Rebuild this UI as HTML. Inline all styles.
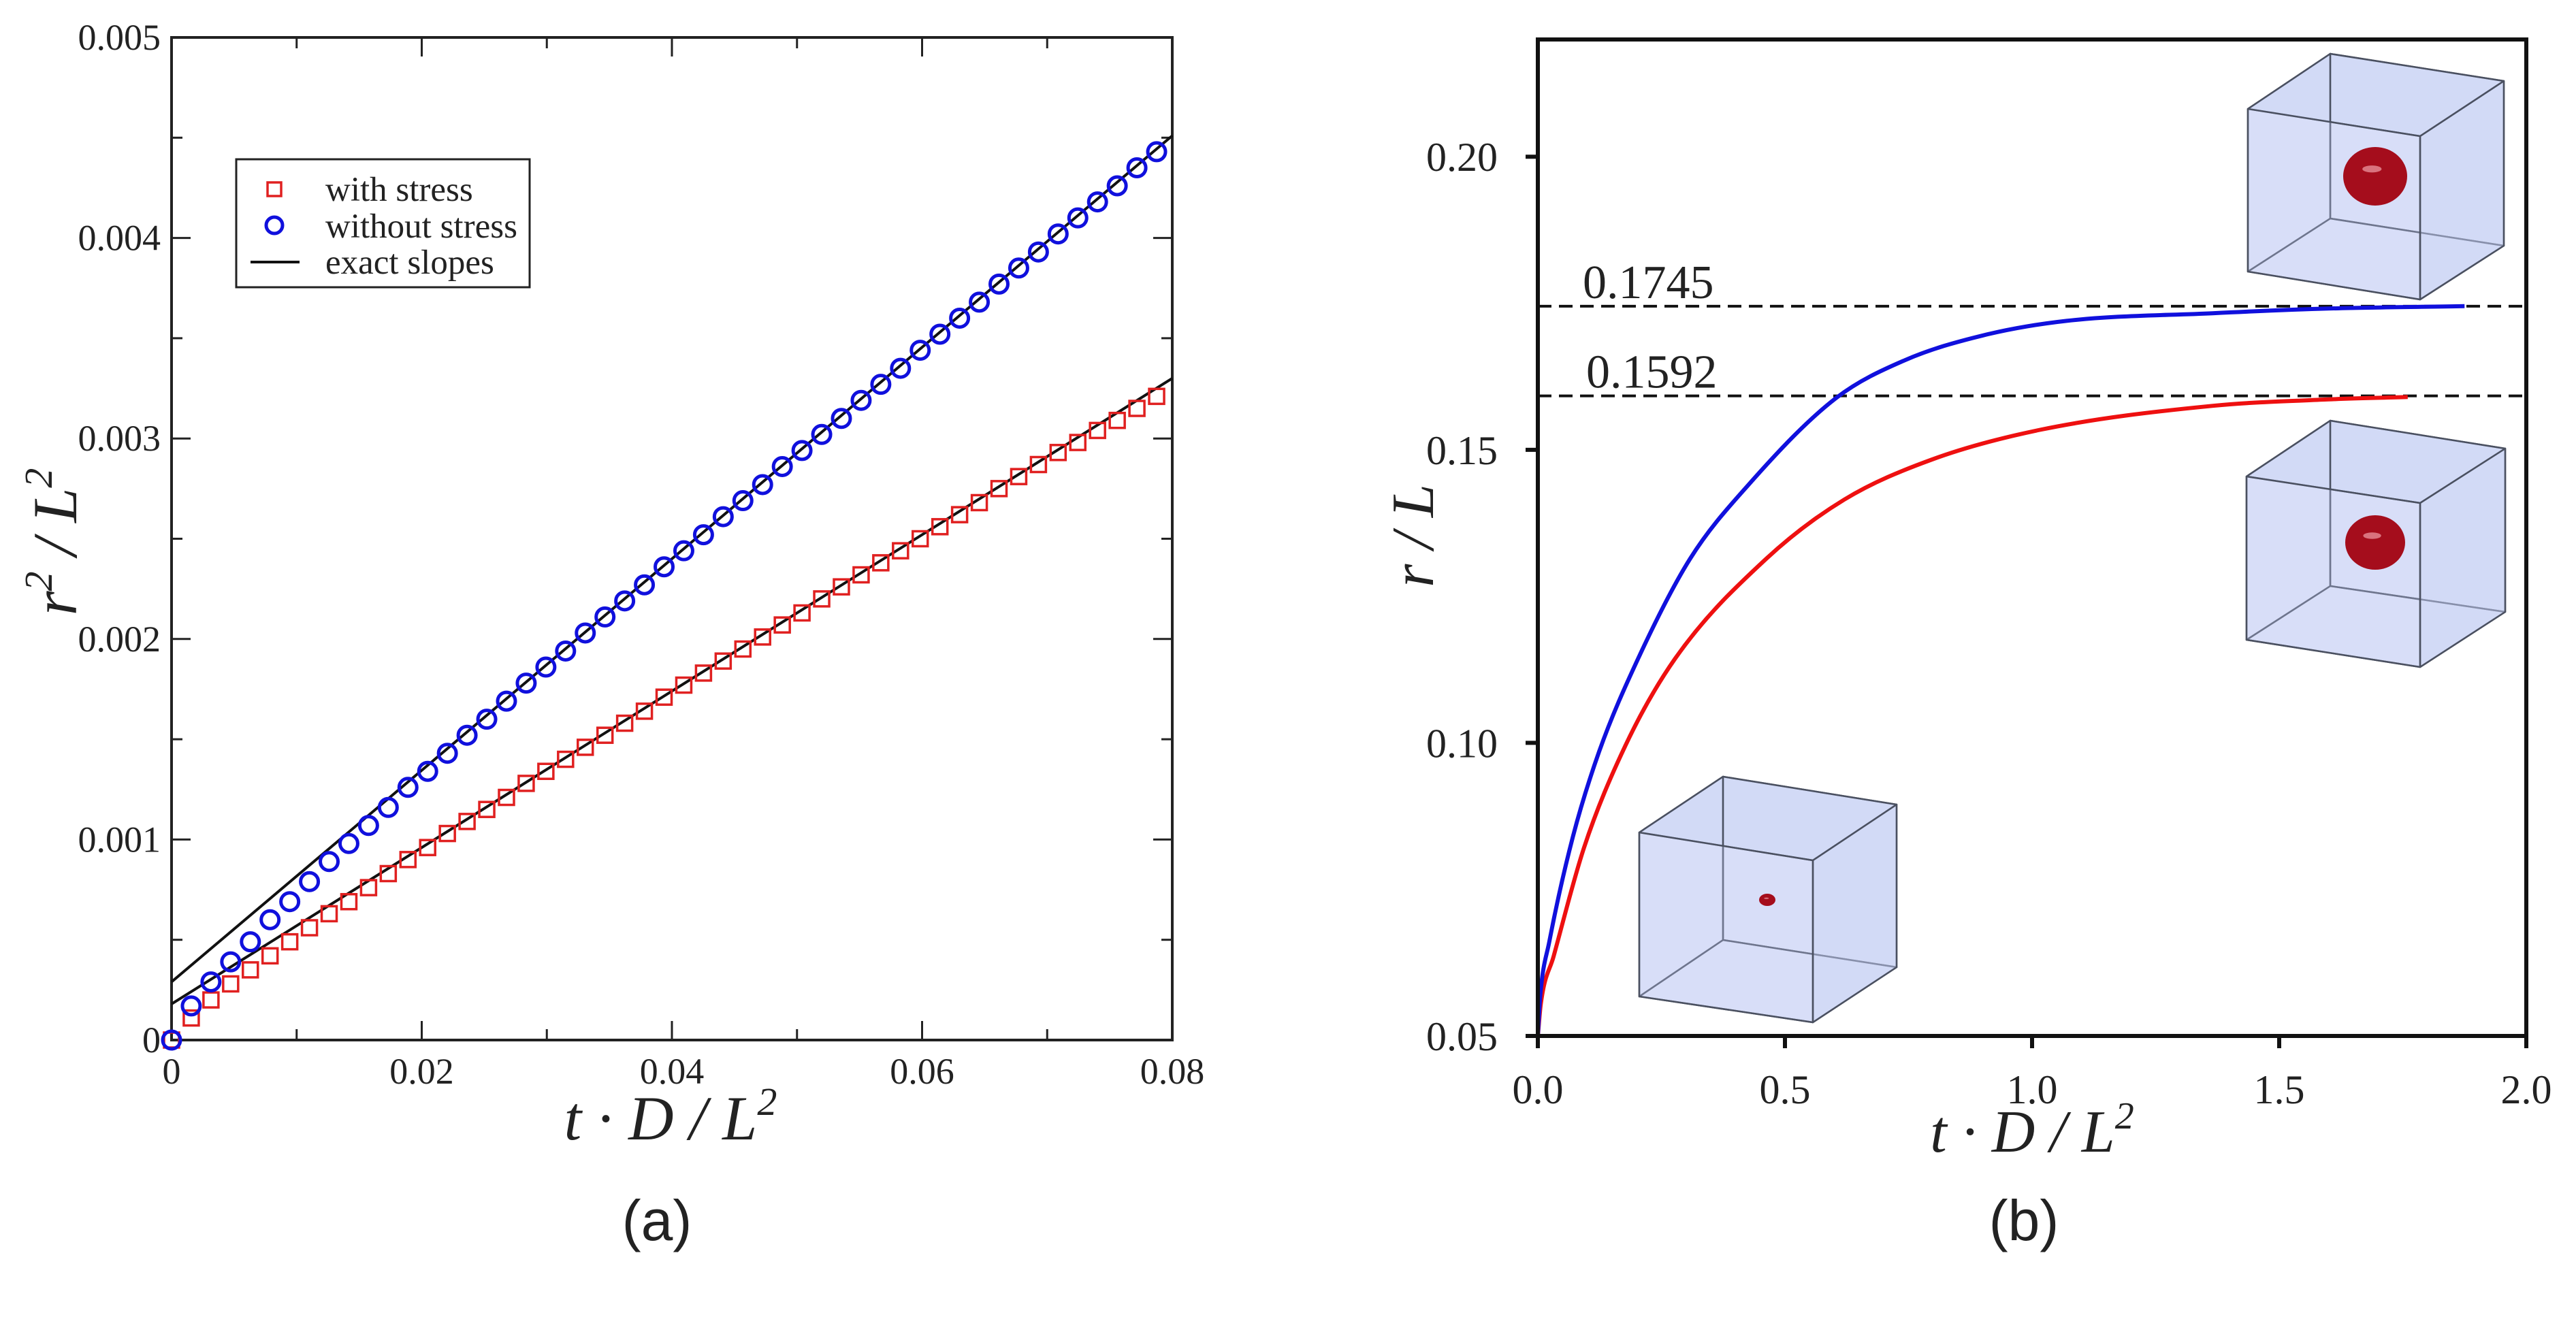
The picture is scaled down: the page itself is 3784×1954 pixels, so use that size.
<!DOCTYPE html>
<html><head><meta charset="utf-8"><style>
html,body{margin:0;padding:0;background:#fff;}
svg{display:block;}
.tk{font-family:"Liberation Serif",serif;fill:#222;}
.ax{font-family:"Liberation Serif",serif;font-style:italic;fill:#222;}
.cap{font-family:"Liberation Sans",sans-serif;fill:#222;}
</style></head><body>
<svg id="fig" width="3784" height="1954" viewBox="0 0 3784 1954" xmlns="http://www.w3.org/2000/svg">
<g id="pa"></g>
<g id="pb"></g>
</svg>
<script>
// ---------- Panel (a) data ----------
const aTimes = [0,0.001575,0.00315,0.004725,0.0063,0.007875,0.00945,0.011025,0.0126,0.014175,0.01575,0.017325,0.0189,0.020475,0.02205,0.023625,0.0252,0.026775,0.02835,0.029925,0.0315,0.033075,0.03465,0.036225,0.0378,0.039375,0.04095,0.042525,0.0441,0.045675,0.04725,0.048825,0.0504,0.051975,0.05355,0.055125,0.0567,0.058275,0.05985,0.061425,0.063,0.064575,0.06615,0.067725,0.0693,0.070875,0.07245,0.074025,0.0756,0.077175,0.07875];
const aWithout = [0,0.00017,0.00029,0.00039,0.00049,0.0006,0.00069,0.00079,0.00089,0.00098,0.00107,0.00116,0.00126,0.00134,0.00143,0.00152,0.0016,0.00169,0.00178,0.00186,0.00194,0.00203,0.00211,0.00219,0.00227,0.00236,0.00244,0.00252,0.00261,0.00269,0.00277,0.00286,0.00294,0.00302,0.0031,0.00319,0.00327,0.00335,0.00344,0.00352,0.0036,0.00368,0.00377,0.00385,0.00393,0.00402,0.0041,0.00418,0.00426,0.00435,0.00443];
const aWith = [0,0.00011,0.0002,0.00028,0.00035,0.00042,0.00049,0.00056,0.00063,0.00069,0.00076,0.00083,0.0009,0.00096,0.00103,0.00109,0.00115,0.00121,0.00128,0.00134,0.0014,0.00146,0.00152,0.00158,0.00164,0.00171,0.00177,0.00183,0.00189,0.00195,0.00201,0.00207,0.00213,0.0022,0.00226,0.00232,0.00238,0.00244,0.0025,0.00256,0.00262,0.00268,0.00275,0.00281,0.00287,0.00293,0.00298,0.00304,0.00309,0.00315,0.00321];
const aSlopeX = [0,0.08];
const aSlopeWithout = [0.00029,0.00451];
const aSlopeWith = [0.00018,0.0033];
const aXTicks = [0,0.02,0.04,0.06,0.08];
const aXTickLabels = ["0","0.02","0.04","0.06","0.08"];
const aYTicks = [0,0.001,0.002,0.003,0.004,0.005];
const aYTickLabels = ["0","0.001","0.002","0.003","0.004","0.005"];

// ---------- Panel (b) data ----------
const bBlueT = [0,0.005,0.023,0.071,0.124,0.203,0.308,0.427,0.603,0.743,0.9,1.07,1.365,1.6,1.875];
const bBlueR = [0.05,0.057,0.066,0.084,0.0985,0.1144,0.1314,0.1441,0.1588,0.1653,0.1695,0.172,0.1733,0.1741,0.1745];
const bRedT = [0,0.006,0.032,0.093,0.177,0.278,0.462,0.62,0.796,1.016,1.366,1.6,1.76];
const bRedR = [0.05,0.0555,0.0636,0.082,0.0995,0.1144,0.1314,0.1415,0.1483,0.1534,0.1575,0.1586,0.159];
const bRefValues = [0.1745,0.1592];
const bRefLabels = ["0.1745","0.1592"];
const bXTicks = [0,0.5,1.0,1.5,2.0];
const bXTickLabels = ["0.0","0.5","1.0","1.5","2.0"];
const bYTicks = [0.05,0.10,0.15,0.20];
const bYTickLabels = ["0.05","0.10","0.15","0.20"];

const NS="http://www.w3.org/2000/svg";
function mk(parent,tag,attrs,text){const e=document.createElementNS(NS,tag);for(const k in attrs)e.setAttribute(k,attrs[k]);if(text!==undefined)e.textContent=text;parent.appendChild(e);return e;}

// ===== Panel A =====
const A={x0:252,x1:1722,y0:1528,y1:55,xmin:0,xmax:0.08,ymin:0,ymax:0.005};
const ax=v=>A.x0+(v-A.xmin)/(A.xmax-A.xmin)*(A.x1-A.x0);
const ay=v=>A.y0-(v-A.ymin)/(A.ymax-A.ymin)*(A.y0-A.y1);
const pa=document.getElementById('pa');
let e;
e=mk(pa,'rect',{x:A.x0,y:A.y1,width:A.x1-A.x0,height:A.y0-A.y1,fill:'none',stroke:'#222','stroke-width':4});


for(let v=0;v<=0.08001;v+=0.01){const major=Math.abs(v/0.02-Math.round(v/0.02))<1e-6;const L=major?28:16;const x=ax(v);
 e=mk(pa,'line',{x1:x,y1:A.y0,x2:x,y2:A.y0-L,stroke:'#222','stroke-width':3});
 
 
 e=mk(pa,'line',{x1:x,y1:A.y1,x2:x,y2:A.y1+L,stroke:'#222','stroke-width':3});
 
 }
for(let v=0;v<=0.005001;v+=0.0005){const major=Math.abs(v/0.001-Math.round(v/0.001))<1e-6;const L=major?28:16;const y=ay(v);
 e=mk(pa,'line',{x1:A.x0,y1:y,x2:A.x0+L,y2:y,stroke:'#222','stroke-width':3});
 
 
 e=mk(pa,'line',{x1:A.x1,y1:y,x2:A.x1-L,y2:y,stroke:'#222','stroke-width':3});
 
 }
aXTicks.forEach((v,i)=>{e=mk(pa,'text',{x:ax(v),y:1592,'text-anchor':'middle','font-size':54,class:'tk'},aXTickLabels[i]);
 
 });
aYTicks.forEach((v,i)=>{e=mk(pa,'text',{x:236,y:ay(v)+18,'text-anchor':'end','font-size':54,class:'tk'},aYTickLabels[i]);
 
 });
e=mk(pa,'line',{x1:ax(aSlopeX[0]),y1:ay(aSlopeWithout[0]),x2:ax(aSlopeX[1]),y2:ay(aSlopeWithout[1]),stroke:'#111','stroke-width':4});


e=mk(pa,'line',{x1:ax(aSlopeX[0]),y1:ay(aSlopeWith[0]),x2:ax(aSlopeX[1]),y2:ay(aSlopeWith[1]),stroke:'#111','stroke-width':4});


aTimes.forEach((t,i)=>{e=mk(pa,'rect',{x:ax(t)-11,y:ay(aWith[i])-11,width:22,height:22,fill:'none',stroke:'#e02020','stroke-width':3.5});
 
 });
aTimes.forEach((t,i)=>{e=mk(pa,'circle',{cx:ax(t),cy:ay(aWithout[i]),r:13,fill:'none',stroke:'#1010dd','stroke-width':5});
 
 });
const lg=mk(pa,'g',{});


mk(lg,'rect',{x:347,y:234,width:431,height:188,fill:'#fff',stroke:'#222','stroke-width':3});
e=mk(lg,'rect',{x:393,y:268,width:20,height:20,fill:'none',stroke:'#e02020','stroke-width':3.5});


e=mk(lg,'circle',{cx:403,cy:331,r:12,fill:'none',stroke:'#1010dd','stroke-width':5});


e=mk(lg,'line',{x1:368,y1:385,x2:440,y2:385,stroke:'#111','stroke-width':4});


[["with stress",295],["without stress",349],["exact slopes",402]].forEach(([s,y])=>{e=mk(lg,'text',{x:478,y:y,'font-size':51,class:'tk'},s);
 
 });
e=mk(pa,'text',{x:0,y:0,transform:'translate(112,796) rotate(-90)','text-anchor':'middle','font-size':92,class:'ax'});
e.innerHTML='r<tspan font-size="58" dy="-36">2</tspan><tspan dy="36"> / L</tspan><tspan font-size="58" dy="-36">2</tspan>';


e=mk(pa,'text',{x:985,y:1674,'text-anchor':'middle','font-size':92,class:'ax'});
e.innerHTML='t · D / L<tspan font-size="58" dy="-36">2</tspan>';


e=mk(pa,'text',{x:965,y:1822,'text-anchor':'middle','font-size':84,class:'cap'},'(a)');



// ===== Panel B =====
const B={x0:2259,x1:3711,y0:1522,y1:58,xmin:0,xmax:2.0,ymin:0.05,ymax:0.22};
const bx=v=>B.x0+(v-B.xmin)/(B.xmax-B.xmin)*(B.x1-B.x0);
const by=v=>B.y0-(v-B.ymin)/(B.ymax-B.ymin)*(B.y0-B.y1);
const pb=document.getElementById('pb');
function cube(name,f,b,sph){const g=mk(pb,'g',{});
 
 
 const st={fill:'#c3cdf4','fill-opacity':0.5,stroke:'#4a5060','stroke-width':2.5,'stroke-linejoin':'round'};
 const P=a=>a.map(p=>p.join(',')).join(' ');
 mk(g,'polygon',Object.assign({points:P(b)},st));
 mk(g,'polygon',Object.assign({points:P([f[0],b[0],b[1],f[1]])},st));
 mk(g,'polygon',Object.assign({points:P([f[3],b[3],b[2],f[2]])},st));
 mk(g,'polygon',Object.assign({points:P([f[0],b[0],b[3],f[3]])},st));
 mk(g,'polygon',Object.assign({points:P([f[1],b[1],b[2],f[2]])},st));
 mk(g,'polygon',Object.assign({points:P(f)},st,{'fill-opacity':0.3}));
 mk(g,'ellipse',{cx:sph[0],cy:sph[1],rx:sph[2],ry:sph[3],fill:'#a50d1c'});
 mk(g,'ellipse',{cx:sph[0]-sph[2]*0.1,cy:sph[1]-sph[3]*0.25,rx:sph[2]*0.3,ry:sph[3]*0.12,fill:'#f0a0a8','fill-opacity':0.7});}
cube('cube-inset-small',[[2408,1223],[2663,1264],[2663,1502],[2408,1464]],[[2531,1141],[2786,1182],[2786,1421],[2531,1381]],[2596,1322,12,9]);
cube('cube-inset-with-stress',[[3300,700],[3555,739],[3555,980],[3300,940]],[[3423,618],[3680,659],[3680,899],[3423,861]],[3489,797,44,40]);
cube('cube-inset-without-stress',[[3302,160],[3555,200],[3555,440],[3302,399]],[[3423,79],[3678,119],[3678,361],[3423,321]],[3489,259,47,43]);
bRefValues.forEach((v,i)=>{e=mk(pb,'line',{x1:B.x0,y1:by(v),x2:B.x1,y2:by(v),stroke:'#111','stroke-width':4,'stroke-dasharray':'20 11'});
 
 
 e=mk(pb,'text',{x:2325+i*5,y:by(v)-12,'font-size':70,class:'tk'},bRefLabels[i]);
 
 });
function mono(T,R){const p=T.map((t,i)=>[bx(t),by(R[i])]);const n=p.length;const d=[],m=[];
 for(let i=0;i<n-1;i++)d.push((p[i+1][1]-p[i][1])/(p[i+1][0]-p[i][0]));
 m[0]=d[0];m[n-1]=d[n-2];
 for(let i=1;i<n-1;i++){m[i]=(d[i-1]*d[i]<=0)?0:(d[i-1]+d[i])/2;}
 for(let i=0;i<n-1;i++){if(d[i]===0){m[i]=m[i+1]=0;continue;}const a=m[i]/d[i],b=m[i+1]/d[i],s=a*a+b*b;if(s>9){const tt=3/Math.sqrt(s);m[i]=tt*a*d[i];m[i+1]=tt*b*d[i];}}
 let s='M'+p[0][0].toFixed(1)+','+p[0][1].toFixed(1);
 for(let i=0;i<n-1;i++){const h=(p[i+1][0]-p[i][0])/3;
  s+=' C'+(p[i][0]+h).toFixed(1)+','+(p[i][1]+m[i]*h).toFixed(1)+' '+(p[i+1][0]-h).toFixed(1)+','+(p[i+1][1]-m[i+1]*h).toFixed(1)+' '+p[i+1][0].toFixed(1)+','+p[i+1][1].toFixed(1);}
 return s;}
e=mk(pb,'path',{d:mono(bRedT,bRedR),fill:'none',stroke:'#ee1010','stroke-width':6});


e=mk(pb,'path',{d:mono(bBlueT,bBlueR),fill:'none',stroke:'#1010dd','stroke-width':6});


e=mk(pb,'rect',{x:B.x0,y:B.y1,width:B.x1-B.x0,height:B.y0-B.y1,fill:'none',stroke:'#111','stroke-width':6});


bXTicks.forEach((v,i)=>{e=mk(pb,'line',{x1:bx(v),y1:B.y0,x2:bx(v),y2:B.y0+18,stroke:'#111','stroke-width':6});
 
 
 e=mk(pb,'text',{x:bx(v),y:1621,'text-anchor':'middle','font-size':60,class:'tk'},bXTickLabels[i]);
 
 });
bYTicks.forEach((v,i)=>{e=mk(pb,'line',{x1:B.x0-18,y1:by(v),x2:B.x0,y2:by(v),stroke:'#111','stroke-width':6});
 
 
 e=mk(pb,'text',{x:2200,y:by(v)+21,'text-anchor':'end','font-size':60,class:'tk'},bYTickLabels[i]);
 
 });
e=mk(pb,'text',{x:0,y:0,transform:'translate(2105,787) rotate(-90)','text-anchor':'middle','font-size':88,class:'ax'},'r / L');


e=mk(pb,'text',{x:2985,y:1692,'text-anchor':'middle','font-size':88,class:'ax'});
e.innerHTML='t · D / L<tspan font-size="56" dy="-34">2</tspan>';


e=mk(pb,'text',{x:2973,y:1822,'text-anchor':'middle','font-size':84,class:'cap'},'(b)');


</script>
</body></html>
